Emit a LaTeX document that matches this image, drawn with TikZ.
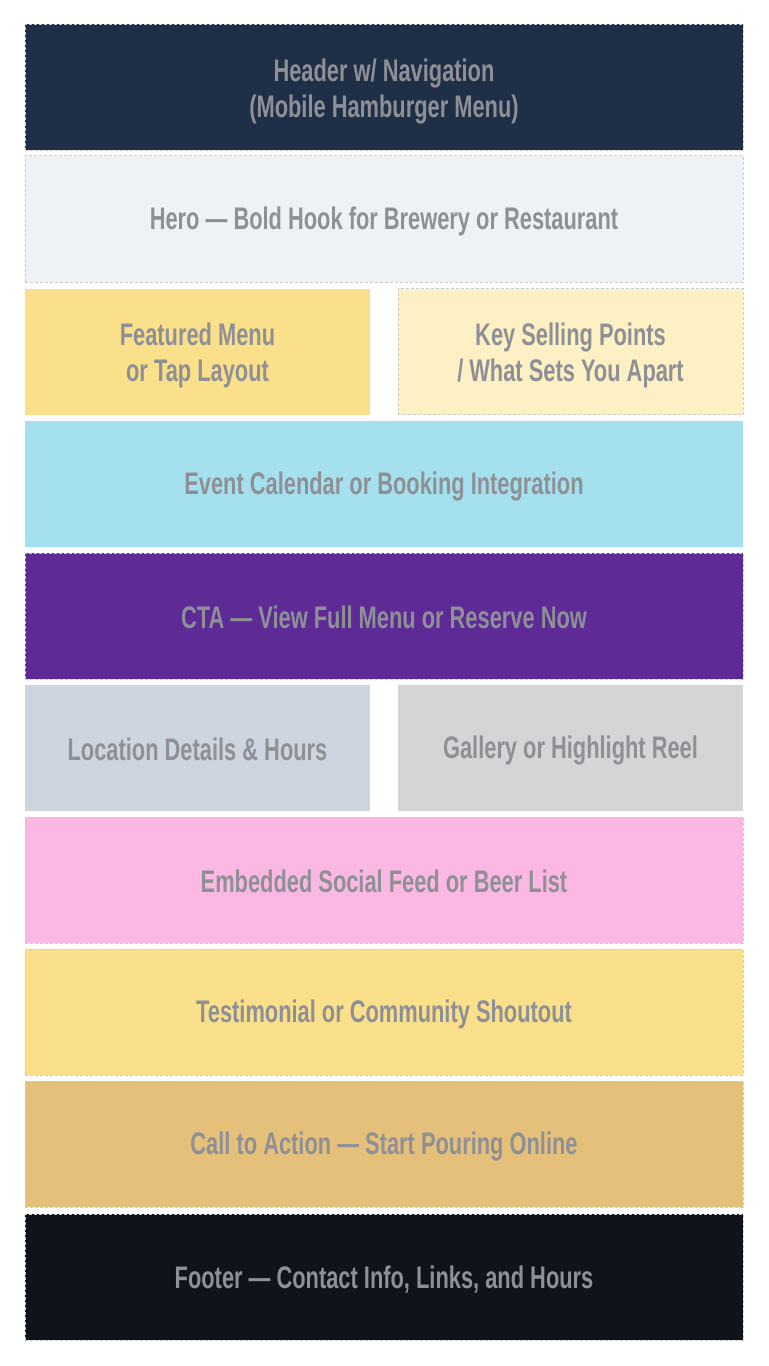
\documentclass[tikz,border=0pt]{standalone}
\usepackage{fontspec}
\setmainfont{Liberation Sans}[FakeStretch=0.7]
\definecolor{txtgrey}{HTML}{8E9096}
\definecolor{edgegrey}{HTML}{CCCCCC}
\definecolor{navy}{HTML}{1F2F48}
\definecolor{heroblue}{HTML}{EEF2F7}
\definecolor{menuyellow}{HTML}{FBE08C}
\definecolor{paleyellow}{HTML}{FDF0C4}
\definecolor{skyblue}{HTML}{A5E0EE}
\definecolor{ctapurple}{HTML}{5E2A96}
\definecolor{slategrey}{HTML}{CDD6E0}
\definecolor{lightgrey}{HTML}{D4D5D6}
\definecolor{pink}{HTML}{FBB8E2}
\definecolor{gold}{HTML}{E5C07B}
\definecolor{nearblack}{HTML}{10131A}
\newcommand{\capstrut}{\rule[-3pt]{0pt}{24pt}}
\newcommand{\tallstrut}{\rule[-3pt]{0pt}{25.5pt}}
\begin{document}
\begin{tikzpicture}[x=0.75pt,y=-0.75pt,
  block/.style={inner sep=0pt, outer sep=0pt, minimum height=94.5pt, align=center,
    text=txtgrey, font=\bfseries\fontsize{23.4}{27}\selectfont,
    execute at begin node=\capstrut, execute at end node=\capstrut},
  wide/.style={block, minimum width=538.5pt},
  half/.style={block, minimum width=258.75pt},
  dashedge/.style={draw=edgegrey, line width=0.75pt, dash pattern=on 2.25pt off 1.5pt}]
\useasboundingbox (0,0) rectangle (768,1366);
\node[wide, fill=navy, dashedge] (header) at (384,87.5) {\tallstrut Header w/ Navigation\\(Mobile Hamburger Menu)};
\node[wide, fill=heroblue, dashedge] (hero) at (384,219) {Hero — Bold Hook for Brewery or Restaurant};
\node[half, fill=menuyellow] (menu) at (197.5,351.5) {\tallstrut Featured Menu\\or Tap Layout};
\node[half, fill=paleyellow, dashedge] (points) at (570.5,351.5) {\tallstrut Key Selling Points\\/ What Sets You Apart};
\node[wide, fill=skyblue] (events) at (384,484) {Event Calendar or Booking Integration};
\node[wide, fill=ctapurple, dashedge] (cta) at (384,616) {CTA — View Full Menu or Reserve Now};
\node[half, fill=slategrey] (location) at (197.5,748) {Location Details \& Hours};
\node[half, fill=lightgrey] (gallery) at (570.5,748) {Gallery or Highlight Reel};
\node[wide, fill=pink, dashedge] (social) at (384,880) {Embedded Social Feed or Beer List};
\node[wide, fill=menuyellow, dashedge] (testimonial) at (384,1012) {Testimonial or Community Shoutout};
\node[wide, fill=gold, dashedge] (pour) at (384,1144) {Call to Action — Start Pouring Online};
\node[wide, fill=nearblack, dashedge] (footer) at (384,1277) {Footer — Contact Info, Links, and Hours};
\end{tikzpicture}
\end{document}
